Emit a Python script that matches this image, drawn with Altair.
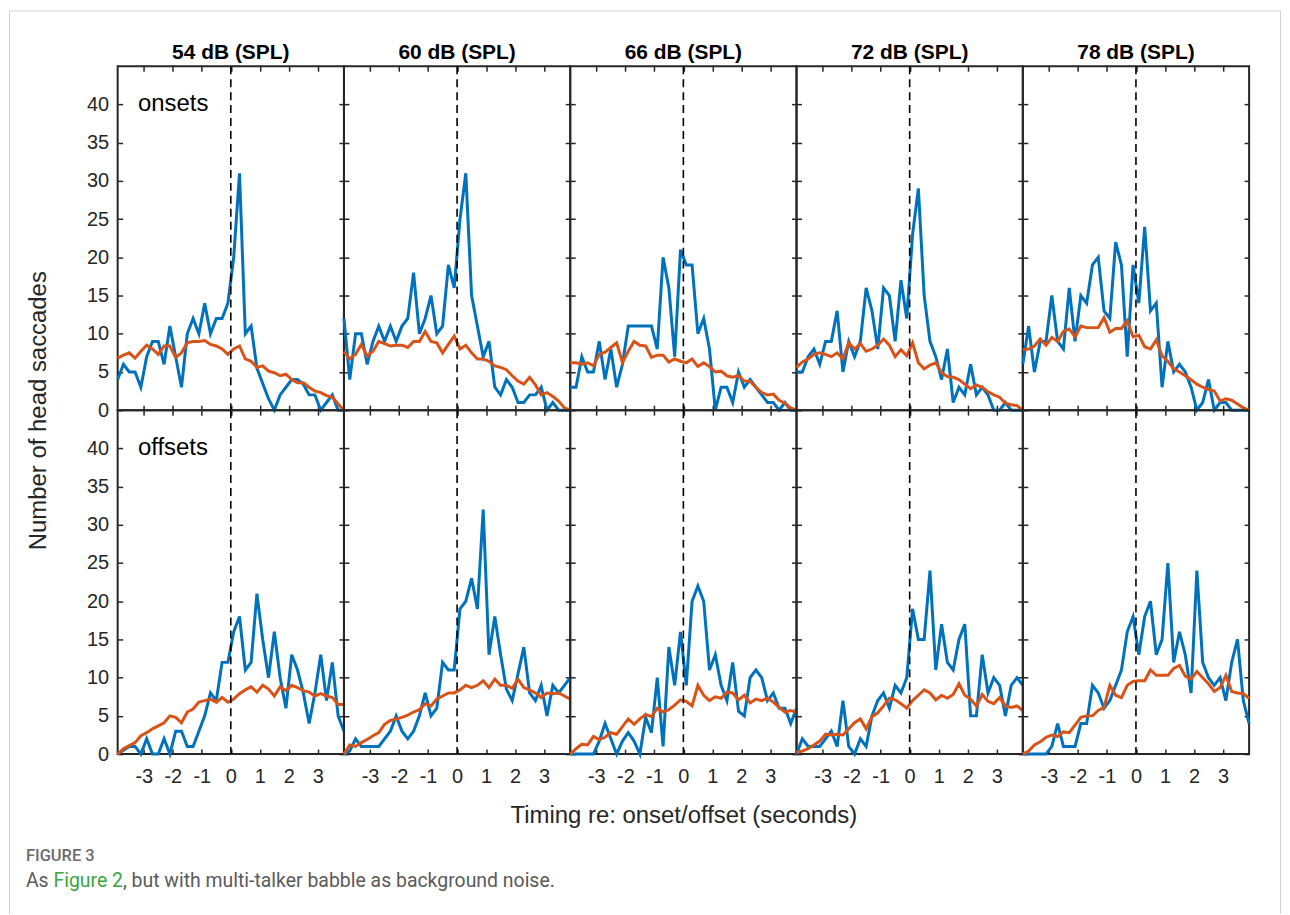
import altair as alt
import pandas as pd

# ---- data -------------------------------------------------------------
TIME = [-3.9, -3.7, -3.5, -3.3, -3.1, -2.9, -2.7, -2.5, -2.3, -2.1,
        -1.9, -1.7, -1.5, -1.3, -1.1, -0.9, -0.7, -0.5, -0.3, -0.1,
        0.1, 0.3, 0.5, 0.7, 0.9, 1.1, 1.3, 1.5, 1.7, 1.9,
        2.1, 2.3, 2.5, 2.7, 2.9, 3.1, 3.3, 3.5, 3.7, 3.9]

LEVELS = ["54 dB (SPL)", "60 dB (SPL)", "66 dB (SPL)", "72 dB (SPL)", "78 dB (SPL)"]
ROW_LABELS = ["onsets", "offsets"]
Y_TICKS = [0, 5, 10, 15, 20, 25, 30, 35, 40]
X_TICKS = [-3, -2, -1, 0, 1, 2, 3]

# onsets (top row): measured (blue) and baseline (orange)
ON_54_OBS = [4, 6, 5, 5, 3, 7, 9, 9, 6, 11, 7, 3, 10, 12, 10, 14, 10, 12, 12, 14,
             20, 31, 10, 11, 5.5, 3.5, 1.5, 0, 2, 3, 4, 4, 3.4, 2, 2, 0, 1, 2, 0, 0]
ON_54_BASE = [6.8, 7.2, 7.5, 6.8, 7.7, 8.5, 8, 7.3, 8.4, 8.4, 6.9, 7.5, 8.8, 9, 9, 9.1, 8.6, 8.4, 8, 7.3,
              8, 8.4, 6.7, 6.4, 5.6, 5.8, 5.1, 4.9, 4.5, 4.7, 4, 3.6, 3.6, 3, 2.5, 2.3, 1.9, 1.7, 0.8, 0]
ON_60_OBS = [12, 4, 10, 10, 6, 9, 11, 9, 11, 9, 11, 12, 18, 10, 12, 15, 10, 11, 19, 16,
             25, 31, 15, 11, 7, 9, 3, 2, 4, 3, 1, 1, 2, 2, 3, 0, 1, 0, 0, 0]
ON_60_BASE = [7.7, 6.7, 7.3, 8.6, 7.1, 7.7, 9, 8.7, 8.4, 8.5, 8.5, 8.2, 9, 9, 10.3, 9, 8.8, 7.5, 8.6, 9.7,
              8, 8.5, 7.5, 6.7, 6.7, 6.4, 5.8, 5.6, 5.3, 4.5, 3.8, 3.4, 4.3, 3.3, 2, 2.3, 1.8, 1.2, 0.3, 0]
ON_66_OBS = [3, 3, 7, 5, 5, 9, 4, 8, 3, 6, 11, 11, 11, 11, 11, 8, 20, 16, 7, 21,
             19, 19, 10, 12, 8, 0, 3, 3, 1, 5, 3, 4, 3, 2, 1, 1, 0, 1, 0, 0]
ON_66_BASE = [6.2, 6.2, 6, 6.2, 5.8, 7.3, 7.6, 8.2, 8.8, 6.2, 7.7, 9, 8.5, 8.4, 6.9, 7.2, 7.2, 6.3, 6.7, 6.4,
              6.2, 6.7, 5.7, 6.2, 5.7, 5, 5.1, 4.5, 4.3, 4.5, 3.8, 3.8, 3, 2.3, 2, 2.1, 1.3, 0.9, 0.3, 0]
ON_72_OBS = [5, 5, 7, 8, 6, 9, 9, 13, 5, 9, 7, 9, 16, 13, 8, 16, 15, 9, 17, 12,
             23, 29, 15, 9, 7, 4, 8, 1, 3, 2, 6, 2, 3, 2, 0, 0, 1, 0, 0, 0]
ON_72_BASE = [5.6, 6.3, 6.7, 7.3, 7.5, 7.3, 7, 7.5, 6.7, 8.8, 8, 8.7, 7.7, 8, 8.5, 9.3, 8.5, 7, 7.9, 7.1,
              8.8, 6.2, 5.4, 5.9, 6.2, 4.9, 4.4, 4.3, 4, 3.4, 2.8, 3.3, 3, 2.4, 2, 1.7, 0.9, 0.7, 0.6, 0]
ON_78_OBS = [6, 11, 5, 9, 9, 15, 9, 8, 16, 9, 15, 14, 19, 20, 13, 12, 22, 19, 7, 19,
             14, 24, 13, 14, 3, 9, 5, 6, 5, 3, 0, 1, 4, 0, 1, 1, 0, 0, 0, 0]
ON_78_BASE = [7.9, 8, 8.4, 9.3, 8.5, 9.5, 9, 10.3, 10.6, 9.6, 11, 10.8, 10.8, 10.8, 12.1, 10.2, 10.7, 10.7, 11.7, 9.6,
              9.8, 8.3, 8, 9.2, 7.1, 6.4, 5.4, 5, 4.5, 4, 3.4, 3, 2.7, 2.5, 1.2, 1.5, 1.3, 0.8, 0.3, 0]

# offsets (bottom row)
OFF_54_OBS = [0, 0.5, 1, 1, 0, 2, 0, 0, 2, 0, 3, 3, 1, 1, 3, 5, 8, 7, 12, 12,
              16, 18, 11, 12, 21, 15, 10, 16, 10, 6, 13, 11, 8, 4, 8, 13, 7, 12, 5, 3]
OFF_54_BASE = [0, 0.7, 1.1, 1.5, 2.4, 2.8, 3.3, 3.7, 4.1, 5, 4.8, 4.1, 5.5, 5.9, 6.8, 7, 7.2, 6.8, 7.4, 6.8,
               7.2, 7.9, 8.4, 8.8, 8.1, 9, 8.5, 7.6, 8.8, 8.3, 9, 8.7, 8.3, 8.1, 7.6, 7.9, 7.6, 7.4, 6.5, 6.5]
OFF_60_OBS = [0, 0.4, 2, 1, 1, 1, 1, 2, 3, 5, 3, 2, 3, 5, 8, 5, 6, 12, 11, 11,
              19, 20, 23, 19, 32, 13, 18, 13, 8.5, 7, 10.5, 14, 8, 7, 9, 5, 9, 8, 9, 10]
OFF_60_BASE = [0, 1.2, 1, 1.5, 1.9, 2.4, 2.8, 3.9, 4.4, 4.6, 4.8, 5.1, 5.5, 5.8, 6.6, 6.3, 7.2, 7.6, 8, 8,
               8.4, 9, 8.7, 9, 9.6, 8.7, 9.8, 9, 9, 8.6, 9.8, 8.7, 8.4, 8, 7.4, 8, 7.9, 8, 7.6, 7.2]
OFF_66_OBS = [0, 0, 0, 0, 0, 1.7, 4, 2, 0, 1.7, 2.8, 1.7, 0, 4.8, 2.8, 10, 1, 14, 9, 16,
              9, 20, 22, 20, 11, 13, 9, 7, 12, 5.6, 5, 10, 11, 10, 7, 8, 6, 6, 4, 6]
OFF_66_BASE = [0, 0.7, 1.3, 1.2, 2.3, 1.9, 2.2, 2.8, 2.6, 3.6, 4.6, 3.9, 4.6, 5.2, 4.9, 6, 5.5, 5.8, 6.4, 7.1,
               6.9, 6.3, 9, 7.7, 7, 7.5, 7.3, 8.1, 8, 7.1, 7.7, 6.7, 7.2, 7, 7.3, 6.8, 6.1, 5.5, 5.7, 5.5]
OFF_72_OBS = [0, 2, 1, 1, 1, 2, 3, 1, 7, 1, 0, 2, 1, 5, 7, 8, 6, 9, 8, 10,
              19, 15, 15, 24, 11, 17, 12, 11, 15, 17, 5, 5, 13, 8, 10, 9, 5, 9, 10, 9]
OFF_72_BASE = [0.2, 0.4, 0.7, 1.2, 1.7, 2.6, 2.5, 2.6, 2.5, 3.3, 4.1, 4.6, 3.3, 4.9, 5.4, 6.3, 7.3, 7.1, 6.6, 6,
               7, 7.7, 8.4, 8, 7.1, 7.7, 7.3, 7.8, 9.2, 7.7, 7.2, 6.3, 7.8, 6.9, 6.6, 7.4, 6.3, 6.1, 6.3, 5.7]
OFF_78_OBS = [0, 0, 0, 0, 0, 1, 4, 1, 1, 1, 4, 4, 9, 8, 6, 7, 9, 11, 16, 18,
              13, 18, 20, 13, 15, 25, 12, 16, 13, 8, 24, 12, 10, 9, 10, 7, 12, 15, 7, 4]
OFF_78_BASE = [0, 0.4, 1.2, 1.6, 2.2, 2.5, 2.3, 2.9, 2.8, 3.8, 4.8, 5, 5, 5.7, 6.1, 9, 7.7, 7.4, 9, 9.5,
               9.6, 9.6, 11, 10.3, 10.3, 10.3, 11.2, 11.6, 10.2, 9.8, 10.8, 10, 9.2, 8.2, 8.7, 10.3, 8.2, 8, 7.9, 7.3]

OBS = [[ON_54_OBS, ON_60_OBS, ON_66_OBS, ON_72_OBS, ON_78_OBS],
       [OFF_54_OBS, OFF_60_OBS, OFF_66_OBS, OFF_72_OBS, OFF_78_OBS]]
BASE = [[ON_54_BASE, ON_60_BASE, ON_66_BASE, ON_72_BASE, ON_78_BASE],
        [OFF_54_BASE, OFF_60_BASE, OFF_66_BASE, OFF_72_BASE, OFF_78_BASE]]

Y_TITLE = "Number of head saccades"
X_TITLE = "Timing re: onset/offset (seconds)"
CAPTION_LABEL = "FIGURE 3"
CAPTION_PARTS = ["As ", "Figure 2", ", but with multi-talker babble as background noise."]

# ---- style ------------------------------------------------------------
FONT = "Liberation Sans"
INK = "#262626"
BLUE = "#0072BD"
ORANGE = "#D95319"
FRAME = "#d2d2d2"
PW, PH = 227, 345

xs = alt.Scale(domain=[-3.9, 3.9], nice=False, zero=False)
ys = alt.Scale(domain=[0, 45], nice=False, zero=False)

HYPHEN_LABEL = "datum.value < 0 ? '-' + abs(datum.value) : '' + datum.value"


def axis(orient, values, labels, **extra):
    pad = {"left": 9, "bottom": 13}.get(orient, 8)
    return alt.Axis(orient=orient, values=values, labels=labels, domain=False, grid=False,
                    ticks=True, tickSize=5, tickWidth=1.5, tickColor=INK, offset=-5,
                    labelFont=FONT, labelFontSize=20, labelColor=INK,
                    labelExpr=HYPHEN_LABEL, labelPadding=pad, **extra)


def caption_layers():
    cap_base = alt.Chart(pd.DataFrame({"k": [0]}))
    y1, y2 = PH + 102, PH + 127
    fs = 19.5
    a = cap_base.mark_text(align="left", baseline="middle", font="Roboto", fontSize=16.5,
                           fontWeight=500, color="#6b6b6b", text=CAPTION_LABEL).encode(
        x=alt.value(-92), y=alt.value(y1))
    b = cap_base.mark_text(align="left", baseline="middle", font="Roboto", fontSize=fs,
                           color="#5a5a5a", text=CAPTION_PARTS[0]).encode(
        x=alt.value(-92), y=alt.value(y2))
    c = cap_base.mark_text(align="left", baseline="middle", font="Roboto", fontSize=fs,
                           color="#3aa53f", text=CAPTION_PARTS[1]).encode(
        x=alt.value(-64.4), y=alt.value(y2))
    d = cap_base.mark_text(align="left", baseline="middle", font="Roboto", fontSize=fs,
                           color="#5a5a5a", text=CAPTION_PARTS[2]).encode(
        x=alt.value(5.3), y=alt.value(y2))
    return [a, b, c, d]


def frame_layers():
    # light grey figure frame (left, top, right edges), drawn from the lower-left panel
    fb = alt.Chart(pd.DataFrame({"k": [0]}))
    sty = dict(color=FRAME, strokeWidth=1)
    top_y = -PH - 55.5
    left = fb.mark_rule(**sty).encode(x=alt.value(-108.5), y=alt.value(top_y), y2=alt.value(505))
    top = fb.mark_rule(**sty).encode(x=alt.value(-108.5), x2=alt.value(1166.5), y=alt.value(top_y))
    right = fb.mark_rule(**sty).encode(x=alt.value(1166.5), y=alt.value(top_y), y2=alt.value(505))
    return [left, top, right]


def panel(r, c):
    df = pd.DataFrame({"t": TIME, "obs": OBS[r][c], "base": BASE[r][c]})
    base = alt.Chart(df)

    if r == 1 and c == 2:
        xb_extra = dict(title=X_TITLE, titleFont=FONT, titleFontSize=24, titleFontWeight="normal",
                        titleColor=INK, titleX=PW / 2, titleY=67, titleAlign="center",
                        titleBaseline="middle")
    else:
        xb_extra = dict(title=None)
    if r == 0 and c == 0:
        yl_extra = dict(title=Y_TITLE, titleFont=FONT, titleFontSize=24, titleFontWeight="normal",
                        titleColor=INK, titleX=-84, titleY=PH, titleAngle=270,
                        titleAlign="center", titleBaseline="middle")
    else:
        yl_extra = dict(title=None)

    blue = base.mark_line(color=BLUE, strokeWidth=3).encode(
        x=alt.X("t:Q", scale=xs, axis=axis("bottom", X_TICKS, r == 1, **xb_extra)),
        y=alt.Y("obs:Q", scale=ys, axis=axis("left", Y_TICKS, c == 0, **yl_extra)),
    )
    orange = base.mark_line(color=ORANGE, strokeWidth=3).encode(
        x=alt.X("t:Q", scale=xs, axis=axis("top", X_TICKS, False, title=None)),
        y=alt.Y("base:Q", scale=ys, axis=axis("right", Y_TICKS, False, title=None)),
    )
    rule = alt.Chart(pd.DataFrame({"t": [0]})).mark_rule(
        color="black", strokeWidth=1.6, strokeDash=[8, 5]
    ).encode(x=alt.X("t:Q", scale=xs, axis=None))
    layers = [blue, orange, rule]
    if c == 0:
        lab = alt.Chart(pd.DataFrame({"t": [-3.2], "v": [40], "label": [ROW_LABELS[r]]})).mark_text(
            align="left", baseline="middle", font=FONT, fontSize=24, color="black"
        ).encode(
            x=alt.X("t:Q", scale=xs, axis=None),
            y=alt.Y("v:Q", scale=ys, axis=None),
            text="label:N",
        )
        layers.append(lab)
    if r == 1 and c == 0:
        layers.extend(frame_layers())
        layers.extend(caption_layers())
    ch = alt.layer(*layers).resolve_scale(x="independent", y="independent")
    props = dict(width=PW, height=PH,
                 view=alt.ViewBackground(stroke=INK, strokeWidth=2))
    if r == 0:
        props["title"] = alt.TitleParams(LEVELS[c], font=FONT, fontSize=21, fontWeight="bold",
                                         color="black", offset=2, anchor="middle")
    return ch.properties(**props)


panels = [panel(r, c) for r in range(2) for c in range(5)]

chart = alt.concat(*panels, columns=5, spacing=0, bounds="flush").properties(
    padding={"left": 0, "top": 0, "right": 0, "bottom": 0},
    background="white",
).configure_view(stroke=None)

chart.save("out.html", embed_options={"renderer": "svg", "actions": False})
